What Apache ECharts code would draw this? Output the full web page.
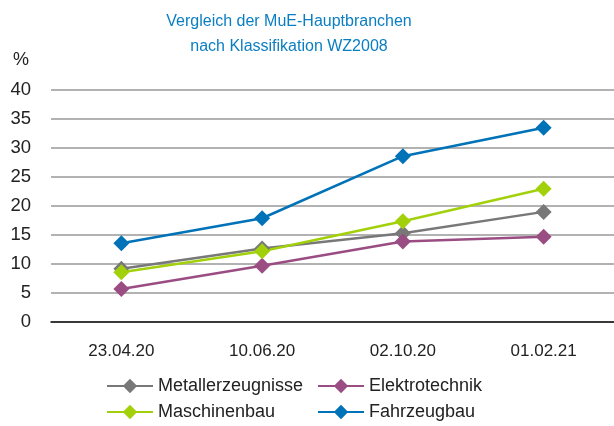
<!DOCTYPE html>
<html>
<head>
<meta charset="utf-8">
<script src="https://cdn.jsdelivr.net/npm/echarts@6/dist/echarts.min.js"></script>
<style>html,body{margin:0;padding:0;background:#fff;}#c{width:614px;height:426px;}</style>
</head>
<body>
<div id="c"></div>
<script>
const categories = ['23.04.20', '10.06.20', '02.10.20', '01.02.21'];
const metallerzeugnisse = [9.1, 12.6, 15.2, 18.9];
const elektrotechnik = [5.6, 9.6, 13.8, 14.6];
const maschinenbau = [8.5, 12.1, 17.3, 22.9];
const fahrzeugbau = [13.5, 17.8, 28.5, 33.4];
const yTicks = [0, 5, 10, 15, 20, 25, 30, 35, 40];

const FONT = '"Liberation Sans", Arial, sans-serif';
const colors = {
  Metallerzeugnisse: '#787878',
  Elektrotechnik: '#9a4d82',
  Maschinenbau: '#a2d10c',
  Fahrzeugbau: '#0072b8'
};
function mk(name, data) {
  return {
    name, type: 'line', data,
    symbol: 'diamond', symbolSize: 16,
    lineStyle: { width: 2.5, color: colors[name] },
    itemStyle: { color: colors[name] },
    emphasis: { disabled: true }
  };
}
function lg(name, left, top) {
  return {
    data: [name], left, top, orient: 'horizontal', padding: 0,
    itemWidth: 46, itemHeight: 18, itemGap: 8,
    textStyle: { fontFamily: FONT, fontSize: 18, color: '#222' },
    selectedMode: false
  };
}
const chart = echarts.init(document.getElementById('c'));
chart.setOption({
  animation: false,
  title: {
    text: 'Vergleich der MuE-Hauptbranchen\nnach Klassifikation WZ2008',
    left: 284, textAlign: 'center', top: 4,
    textStyle: { fontFamily: FONT, fontSize: 16, fontWeight: 'normal', color: '#0a7ec2', lineHeight: 25 }
  },
  graphic: [{ type: 'text', left: 13, top: 51, style: { text: '%', font: '18px ' + FONT, fill: '#222' } }],
  legend: [
    lg('Metallerzeugnisse', 106, 377),
    lg('Elektrotechnik', 317, 377),
    lg('Maschinenbau', 106, 403),
    lg('Fahrzeugbau', 317, 403)
  ],
  grid: { left: 51, right: 0, top: 89.5, bottom: 104.5 },
  xAxis: {
    type: 'category', data: categories, boundaryGap: true,
    axisLine: { lineStyle: { color: '#111', width: 1.5 } },
    axisTick: { alignWithLabel: true, length: 6, lineStyle: { color: '#111', width: 1.5 } },
    axisLabel: { fontFamily: FONT, fontSize: 17, color: '#222', margin: 21 }
  },
  yAxis: {
    type: 'value', min: yTicks[0], max: yTicks[yTicks.length - 1], interval: 5,
    axisLine: { show: false }, axisTick: { show: false },
    splitLine: { lineStyle: { color: '#999', width: 1.5 } },
    axisLabel: { fontFamily: FONT, fontSize: 18.5, color: '#222', margin: 20 }
  },
  series: [
    mk('Metallerzeugnisse', metallerzeugnisse),
    mk('Elektrotechnik', elektrotechnik),
    mk('Maschinenbau', maschinenbau),
    mk('Fahrzeugbau', fahrzeugbau)
  ]
});
</script>
</body>
</html>
